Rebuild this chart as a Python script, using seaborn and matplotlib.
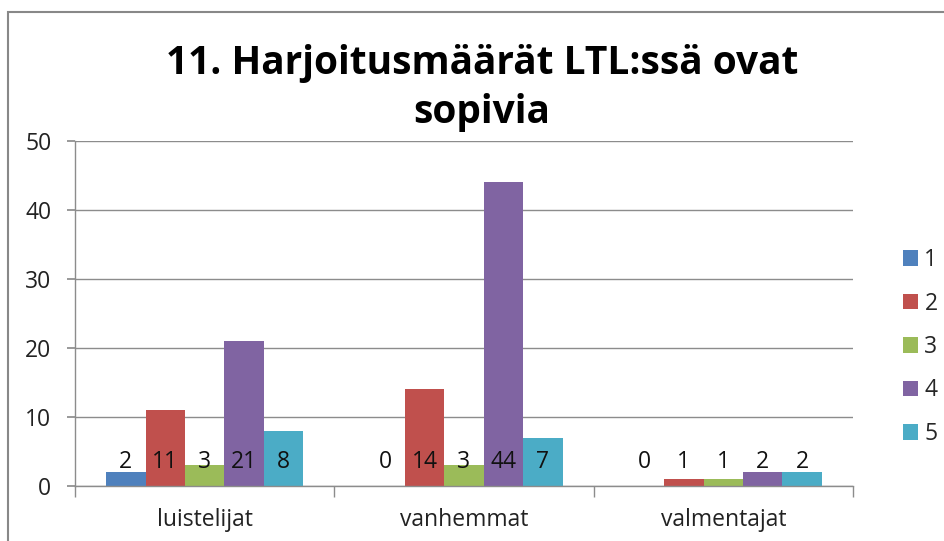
import matplotlib
matplotlib.use("Agg")
import matplotlib.pyplot as plt
import seaborn as sns
import pandas as pd
from matplotlib.patches import Rectangle

categories = ["luistelijat", "vanhemmat", "valmentajat"]
series = ["1", "2", "3", "4", "5"]
values_1 = [2, 0, 0]
values_2 = [11, 14, 1]
values_3 = [3, 3, 1]
values_4 = [21, 44, 2]
values_5 = [8, 7, 2]
colors = ["#4F81BD", "#C0504D", "#9BBB59", "#8064A2", "#4BACC6"]
title = "11. Harjoitusmäärät LTL:ssä ovat\nsopivia"

all_vals = [values_1, values_2, values_3, values_4, values_5]
rows = []
for s, vals in zip(series, all_vals):
    for c, v in zip(categories, vals):
        rows.append({"kategoria": c, "sarja": s, "arvo": v})
df = pd.DataFrame(rows)

sns.set_theme(style="white")
plt.rcParams["font.family"] = ["Open Sans", "DejaVu Sans"]

FS = 16.5
fig = plt.figure(figsize=(9.44, 5.41), dpi=100)
ax = fig.add_axes([75/944, 1-486/541, (853-75)/944, (486-141)/541])

sns.barplot(data=df, x="kategoria", y="arvo", hue="sarja", order=categories,
            hue_order=series, palette=colors, width=0.76, ax=ax,
            errorbar=None, saturation=1, edgecolor="none", legend=True)

ax.set_ylim(0, 50)
ax.set_xlim(-0.5, 2.5)
ax.set_yticks(range(0, 51, 10))
ax.yaxis.grid(True, color="#8C8C8C", linewidth=1)
ax.set_axisbelow(True)
ax.set_xlabel("")
ax.set_ylabel("")
for side in ["top", "right"]:
    ax.spines[side].set_visible(False)
for side in ["left", "bottom"]:
    ax.spines[side].set_color("#8C8C8C")
    ax.spines[side].set_linewidth(1)

ax.tick_params(axis="y", left=True, length=6, color="#8C8C8C", labelsize=FS,
               pad=11, labelcolor="#222222")
ax.set_xticks([0, 1, 2])
ax.set_xticklabels(categories)
ax.tick_params(axis="x", bottom=False, labelsize=FS, pad=10, labelcolor="#222222")
ax.set_xticks([-0.5, 0.5, 1.5, 2.5], minor=True)
ax.tick_params(axis="x", which="minor", bottom=True, length=8, color="#8C8C8C")

for cont, vals in zip(ax.containers, all_vals):
    for patch, v in zip(cont.patches, vals):
        xc = patch.get_x() + patch.get_width() / 2
        ax.annotate(str(v), xy=(xc, 0), xytext=(0, 17), textcoords="offset points",
                    ha="center", va="center", fontsize=FS, color="#111111")

handles, labels = ax.get_legend_handles_labels()
ax.get_legend().remove()
fig.legend(handles, labels, loc="center left", bbox_to_anchor=(882/944, 1-347/541),
           frameon=False, fontsize=FS, handlelength=0.65, handleheight=0.65,
           handletextpad=0.3, labelspacing=0.85)

fig.text(482/944, 1-88/541, title, ha="center", va="center", fontsize=28,
         fontweight="bold", linespacing=1.32, color="#000000")

fig.patches.append(Rectangle((8/944, -0.1), 1.2, 1 + 0.1 - 12/541,
                             transform=fig.transFigure, fill=False,
                             edgecolor="#888888", linewidth=1.5))

fig.savefig("out.png", dpi=100)
